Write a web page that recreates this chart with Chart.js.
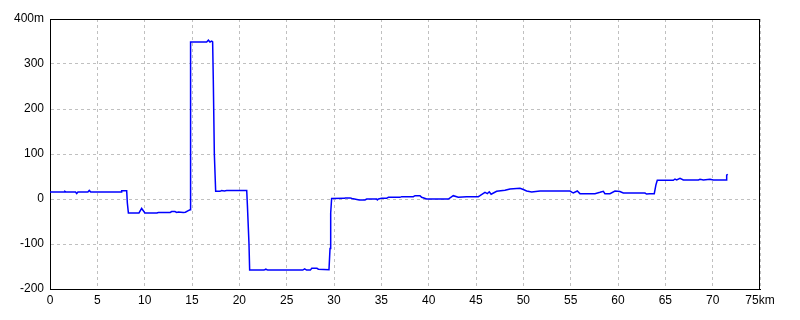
<!DOCTYPE html>
<html>
<head>
<meta charset="utf-8">
<title>Elevation profile</title>
<script src="https://cdn.jsdelivr.net/npm/chart.js@4.4.0/dist/chart.umd.min.js"></script>
<style>
  html, body { margin: 0; padding: 0; background: #ffffff; }
  #chart { display: block; }
</style>
</head>
<body>
<canvas id="chart" width="800" height="320"></canvas>
<script>
// Distance along the route (km) and elevation (m).
const distanceKm = [
  0, 1.5, 1.58, 1.7, 2.7, 2.82, 2.95, 4.0, 4.15, 4.3, 7.5, 7.57, 8.1, 8.17, 8.28,
  9.4, 9.68, 10.03, 11.3, 11.44, 12.7, 12.85, 13.2, 13.38, 13.56, 14.08, 14.3, 14.61, 14.79,
  14.85, 16.55, 16.73, 16.9, 17.08, 17.18, 17.25, 17.36, 17.5, 17.96, 18.13, 18.42, 18.66,
  20.78, 20.85, 21.02, 21.09, 22.6, 22.8, 23.0, 26.7, 26.9, 27.1, 27.5, 27.65, 28.2, 28.35,
  29.47, 29.58, 29.65, 29.75, 31.1, 31.2, 31.7, 31.9, 32.67, 33.27, 33.45, 34.5, 34.58, 34.7,
  35.03, 35.56, 35.74, 36.97, 37.15, 38.38, 38.56, 39.08, 39.26, 39.79, 42.08, 42.6, 43.13,
  44.01, 45.25, 45.42, 45.95, 46.2, 46.4, 46.6, 47.18, 48.06, 48.59, 49.65, 50.0, 50.35,
  50.88, 51.76, 54.93, 55.28, 55.7, 55.98, 57.57, 58.1, 58.45, 58.62, 59.15, 59.68, 60.2,
  60.56, 62.85, 63.02, 63.37, 63.83, 64.01, 64.15, 65.84, 66.02, 66.2, 66.55, 66.9, 68.5,
  68.66, 69.02, 69.72, 70.07, 71.41, 71.48, 71.59,
];
const elevationM = [
  15.5, 15.5, 17, 15.5, 15.5, 12, 15.5, 15.5, 19, 15.5, 15.5, 18.5, 18.5, -9, -31,
  -31, -21, -31, -31, -30, -30, -28, -28, -30, -29, -30, -29.5, -26, -24,
  349, 349, 353, 349, 351, 349, 265, 100, 17, 17, 19, 18, 19,
  19, -13, -100, -158, -158, -156, -158, -158, -155.5, -158, -158, -154, -154, -156,
  -157, -110, -31, 1, 1.4, 2.5, 2.5, 1, -2, -2, 0, 0, -2, 0,
  1.5, 1.5, 3.7, 3.7, 5.2, 5.2, 7.4, 7.4, 3.7, 0, 0, 7.4, 4,
  5, 5.2, 7.4, 14.8, 12, 16, 10.5, 17, 19.3, 22.2, 23.7, 21, 17.8,
  15.5, 17.8, 17.8, 13.3, 17.8, 11.9, 11.9, 14.8, 17, 11.9, 11.9, 17.8, 16.5,
  13.3, 13.3, 11, 11.9, 11.9, 31.8, 41.5, 41.5, 44.4, 42.5, 46, 42.2, 42.2,
  43.7, 42.2, 43.7, 42.2, 42.2, 53, 55,
];

const xTickLabels = ['0', '5', '10', '15', '20', '25', '30', '35', '40', '45', '50', '55', '60', '65', '70', '75km'];
const yTickLabels = ['-200', '-100', '0', '100', '200', '300', '400m'];

const tickFont = { family: "'Liberation Sans', Arial, sans-serif", size: 12 };

// Black frame around the plot area (top and right sides have no axis).
const framePlugin = {
  id: 'frame',
  beforeDatasetsDraw(chart) {
    const { ctx, chartArea } = chart;
    ctx.save();
    ctx.strokeStyle = '#000000';
    ctx.lineWidth = 1;
    ctx.strokeRect(chartArea.left + 0.5, chartArea.top + 0.5, chartArea.width - 1, chartArea.height);
    ctx.restore();
  },
};

new Chart(document.getElementById('chart').getContext('2d'), {
  type: 'line',
  data: {
    datasets: [{
      data: distanceKm.map((km, i) => ({ x: km, y: elevationM[i] })),
      borderColor: '#0000ff',
      borderWidth: 1.5,
      pointRadius: 0,
      tension: 0,
      fill: false,
    }],
  },
  options: {
    responsive: false,
    animation: false,
    events: [],
    layout: { padding: { top: 19, right: 40, left: 0, bottom: 0 } },
    plugins: {
      legend: { display: false },
      tooltip: { enabled: false },
    },
    scales: {
      x: {
        type: 'linear',
        min: 0,
        max: 75,
        afterFit: (scale) => { scale.height = 31; },
        ticks: {
          stepSize: 5,
          color: '#000000',
          font: tickFont,
          padding: 4,
          maxRotation: 0,
          callback: (value) => xTickLabels[Math.round(value / 5)],
        },
        grid: { color: '#c0c0c0', drawTicks: false },
        border: { display: true, color: '#000000', width: 1, dash: [3, 3] },
      },
      y: {
        min: -200,
        max: 400,
        afterFit: (scale) => { scale.width = 50; },
        ticks: {
          stepSize: 100,
          color: '#000000',
          font: tickFont,
          padding: 6,
          callback: (value) => yTickLabels[Math.round((value + 200) / 100)],
        },
        grid: { color: '#c0c0c0', drawTicks: false },
        border: { display: true, color: '#000000', width: 1, dash: [3, 3] },
      },
    },
  },
  plugins: [framePlugin],
});
</script>
</body>
</html>
